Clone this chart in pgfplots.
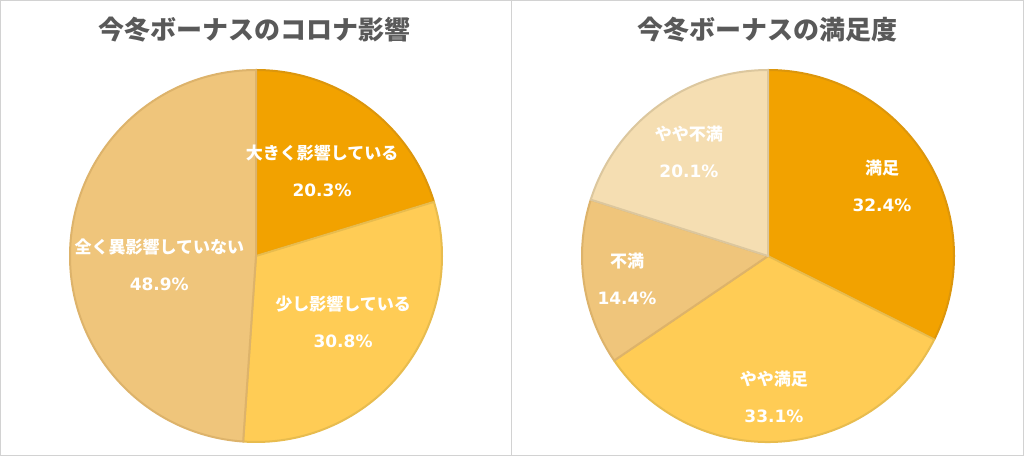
\documentclass[border=0pt]{standalone}
\usepackage{pgfplots}
\pgfplotsset{compat=1.18}
\usepackage{pgfplotstable}
\usepackage{fontspec}
\setmainfont{Noto Sans CJK JP}
\newfontfamily\numfont{DejaVu Sans}

\definecolor{cOr}{HTML}{F2A200}
\definecolor{eOr}{HTML}{DC960C}
\definecolor{cYe}{HTML}{FFCC55}
\definecolor{eYe}{HTML}{E8BC4E}
\definecolor{cTa}{HTML}{EFC57B}
\definecolor{eTa}{HTML}{DDB36B}
\definecolor{cPa}{HTML}{F5DEB2}
\definecolor{ePa}{HTML}{DCC79E}
\definecolor{ttl}{HTML}{595959}
\definecolor{frm}{HTML}{D2D2D2}

% value, fill, edge, label position (axis units), label
\pgfplotstableread{
v    fc  ec  lx     ly     name
20.3 cOr eOr 0.355  0.46   大きく影響している
30.8 cYe eYe 0.468  -0.352 少し影響している
48.9 cTa eTa -0.52  -0.048 全く異影響していない
}\corona

\pgfplotstableread{
v    fc  ec  lx     ly     name
32.4 cOr eOr 0.613  0.376  満足
33.1 cYe eYe 0.032  -0.755 やや満足
14.4 cTa eTa -0.758 -0.121 不満
20.1 cPa ePa -0.425 0.562  やや不満
}\manzoku

\tikzset{lbl/.style={text=white, align=center,
  font=\bfseries\fontsize{12.75}{27.75}\selectfont}}

\newcommand\pie[1]{%
  \pgfplotstablegetrowsof{#1}%
  \pgfmathtruncatemacro\last{\pgfplotsretval-1}%
  \def\cum{0}%
  \pgfplotsforeachungrouped \i in {0,...,\last}{%
    \pgfplotstablegetelem{\i}{v}\of{#1}\let\val\pgfplotsretval
    \pgfplotstablegetelem{\i}{fc}\of{#1}\let\fc\pgfplotsretval
    \pgfplotstablegetelem{\i}{ec}\of{#1}\let\ec\pgfplotsretval
    \pgfmathsetmacro\a{90-3.6*\cum}%
    \pgfmathsetmacro\b{90-3.6*(\cum+\val)}%
    \edef\slice{\noexpand\filldraw[fill=\fc,draw=\ec,line width=1.5pt,line join=round]
      (axis cs:0,0) -- (axis cs:{cos(\a)},{sin(\a)})
      arc[start angle=\a,end angle=\b,radius=139.5pt] -- cycle;}%
    \slice
    \pgfmathsetmacro\cum{\cum+\val}%
  }%
  \pgfplotsforeachungrouped \i in {0,...,\last}{%
    \pgfplotstablegetelem{\i}{v}\of{#1}\let\val\pgfplotsretval
    \pgfplotstablegetelem{\i}{lx}\of{#1}\let\lx\pgfplotsretval
    \pgfplotstablegetelem{\i}{ly}\of{#1}\let\ly\pgfplotsretval
    \pgfplotstablegetelem{\i}{name}\of{#1}\let\nm\pgfplotsretval
    \edef\lab{\noexpand\node[lbl] at (axis cs:\lx,\ly)
      {\nm\noexpand\\{\noexpand\numfont\val\noexpand\%}};}%
    \lab
  }%
}

\pgfplotsset{piebox/.style={hide axis, clip=false, anchor=origin,
  x=139.5pt, y=139.5pt, xmin=-1, xmax=1, ymin=-1, ymax=1}}

\begin{document}
\begin{tikzpicture}
\path[use as bounding box] (0,0) rectangle (768pt,342pt);
\fill[white] (0,0) rectangle (768pt,342pt);
\draw[frm, line width=0.75pt] (0.375pt,0.375pt) rectangle (767.25pt,341.625pt);
\draw[frm, line width=0.75pt] (383.25pt,0) -- (383.25pt,342pt);

\node[font=\bfseries\fontsize{19.5}{23}\selectfont, text=ttl] at (190.5pt,319.5pt) {今冬ボーナスのコロナ影響};
\node[font=\bfseries\fontsize{19.5}{23}\selectfont, text=ttl] at (575.25pt,319.5pt) {今冬ボーナスの満足度};

\begin{axis}[piebox, at={(192pt,150pt)}]
\pie{\corona}
\end{axis}

\begin{axis}[piebox, at={(576pt,150pt)}]
\pie{\manzoku}
\end{axis}
\end{tikzpicture}
\end{document}
